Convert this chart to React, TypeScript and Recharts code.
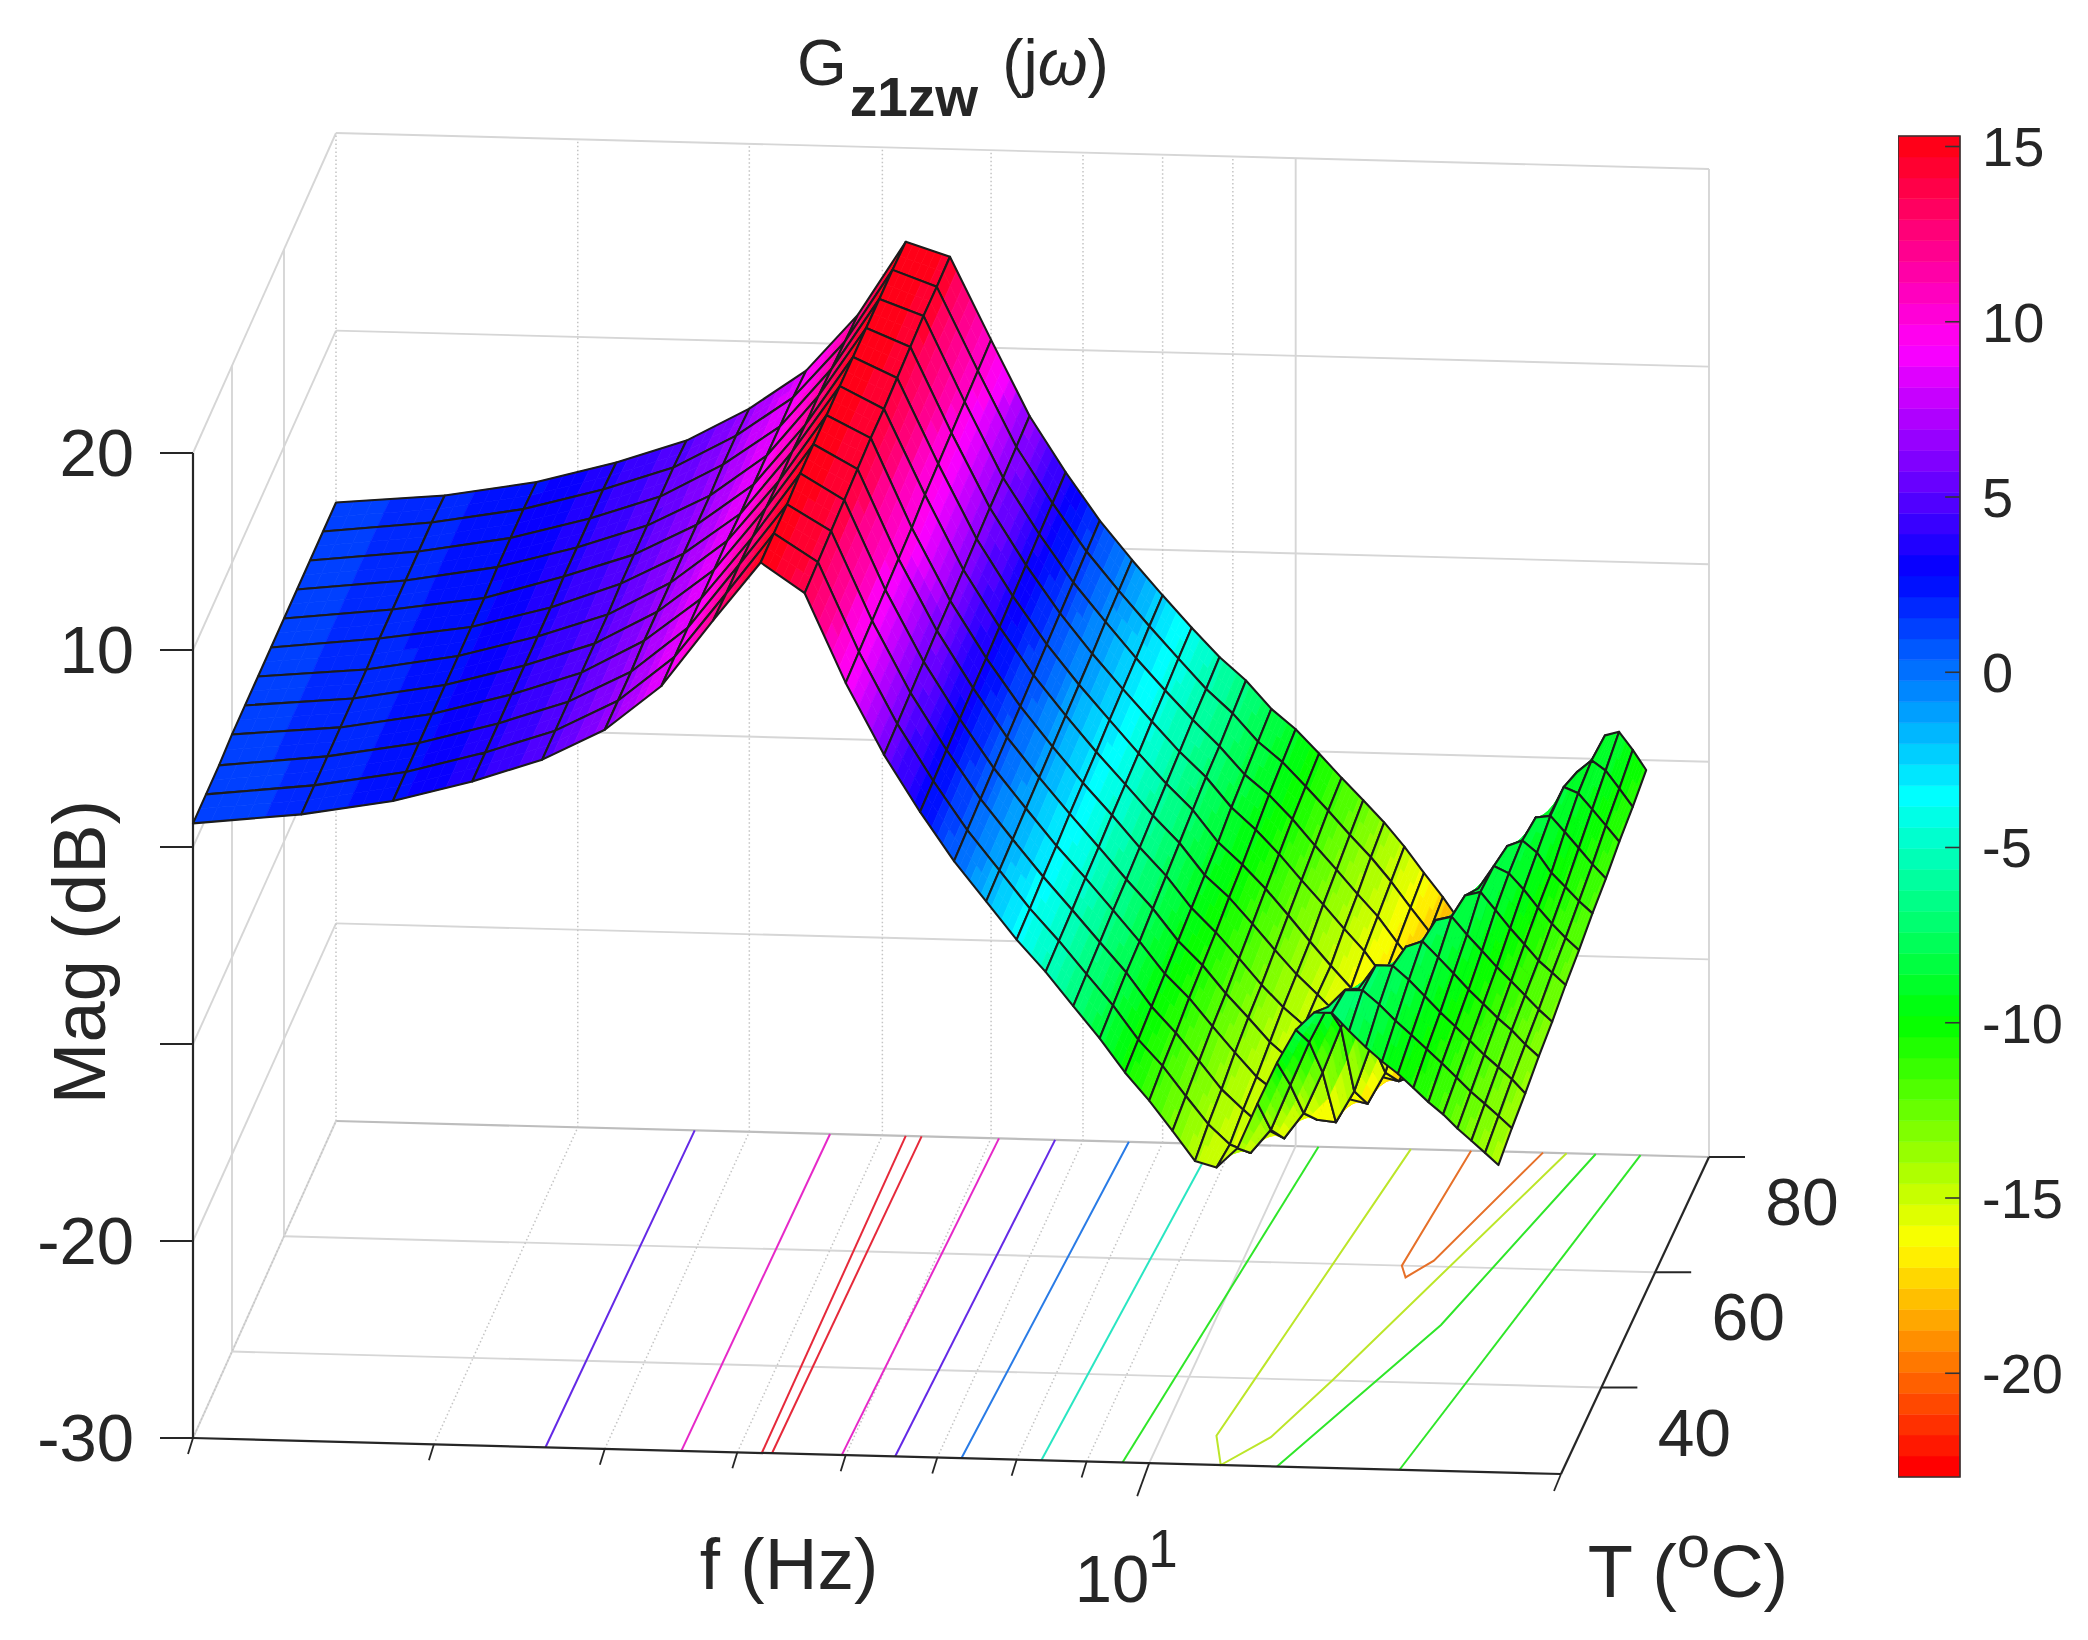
import React from "react";
import { ScatterChart, Scatter, XAxis, YAxis, ComposedChart, ReferenceArea, ReferenceLine } from "recharts";

const WIDTH = 2088;
const HEIGHT = 1640;
const FONT = "'Liberation Sans', Arial, sans-serif";
const INK = "#262626";

// Frequency grid (Hz), temperature grid (°C)
const F_VALUES = [2, 2.4, 2.8, 3.2, 3.6, 4, 4.4, 4.8, 5.2, 5.6, 6, 6.4, 6.8, 7.2, 7.6, 8, 8.4, 8.8, 9.2, 9.6, 10, 10.4, 10.8, 11.2, 11.6, 12, 12.4, 12.8, 13.2, 13.6, 14, 14.4, 14.8, 15.2, 15.6, 16, 16.4, 16.8, 17.2, 17.6, 18];
const T_VALUES = [25, 30, 35, 40, 45, 50, 55, 60, 65, 70, 75, 80];

// Magnitude (dB) per temperature, one value per frequency
const MAG_T25 = [1.2, 1.8, 2.6, 3.7, 4.9, 6.5, 8.8, 12.2, 15.2, 13.7, 9.2, 5.6, 2.75, 0.3, -1.7, -3.6, -5.2, -6.9, -8.5, -10.2, -11.6, -13.1, -14.6, -14.9, -13.9, -11.6, -9.5, -7.8, -6.9, -6.9, -7.8, -8.6, -9.3, -9.9, -10.6, -11.3, -11.9, -12.6, -13.2, -13.8, -14.4];
const MAG_T30 = [1.2, 1.8, 2.6, 3.7, 4.9, 6.5, 8.8, 12.1, 15.2, 13.8, 9.3, 5.7, 2.85, 0.4, -1.6, -3.5, -5.1, -6.75, -8.3, -10.0, -11.3, -12.8, -14.2, -15.2, -15.6, -14.4, -12.1, -9.9, -8.1, -7.2, -7.2, -7.9, -8.7, -9.4, -10.1, -10.8, -11.5, -12.2, -12.8, -13.4, -14.0];
const MAG_T35 = [1.2, 1.8, 2.6, 3.7, 4.9, 6.5, 8.8, 12.1, 15.2, 13.9, 9.4, 5.8, 2.95, 0.5, -1.5, -3.35, -5.0, -6.6, -8.1, -9.8, -11.1, -12.5, -13.9, -14.9, -15.8, -16.3, -15.0, -12.9, -10.6, -8.6, -7.4, -7.4, -8.1, -8.9, -9.7, -10.4, -11.1, -11.8, -12.4, -13.0, -13.7];
const MAG_T40 = [1.3, 1.8, 2.6, 3.7, 4.9, 6.6, 8.8, 12.0, 15.3, 14.0, 9.5, 5.9, 3.05, 0.6, -1.4, -3.25, -4.85, -6.45, -8.0, -9.6, -10.8, -12.2, -13.5, -14.7, -15.5, -16.2, -16.8, -16.9, -15.3, -12.8, -9.9, -7.9, -7.6, -8.4, -9.2, -10.0, -10.7, -11.4, -12.0, -12.7, -13.3];
const MAG_T45 = [1.3, 1.8, 2.6, 3.7, 4.9, 6.6, 8.8, 12.0, 15.3, 14.1, 9.6, 6.0, 3.15, 0.7, -1.3, -3.1, -4.75, -6.35, -7.8, -9.4, -10.6, -12.0, -13.2, -14.4, -15.3, -16.0, -16.7, -17.2, -17.4, -15.8, -13.0, -10.2, -8.0, -7.8, -8.7, -9.5, -10.3, -11.0, -11.7, -12.4, -13.0];
const MAG_T50 = [1.3, 1.8, 2.6, 3.7, 4.9, 6.6, 8.8, 11.9, 15.3, 14.2, 9.7, 6.05, 3.2, 0.8, -1.2, -3.0, -4.6, -6.2, -7.6, -9.2, -10.4, -11.7, -13.0, -14.1, -15.0, -15.6, -16.4, -17.0, -17.5, -17.7, -16.0, -13.2, -10.4, -8.2, -8.0, -8.9, -9.8, -10.6, -11.4, -12.0, -12.6];
const MAG_T55 = [1.3, 1.9, 2.6, 3.7, 5.0, 6.6, 8.7, 11.9, 15.3, 14.2, 9.9, 6.15, 3.3, 0.9, -1.1, -2.9, -4.5, -6.05, -7.4, -9.0, -10.1, -11.4, -12.7, -13.9, -14.9, -15.9, -16.8, -17.6, -18.4, -18.9, -17.4, -14.6, -11.8, -9.3, -8.15, -8.5, -9.3, -10.2, -11.0, -11.7, -12.3];
const MAG_T60 = [1.3, 1.9, 2.6, 3.8, 5.0, 6.6, 8.7, 11.8, 15.3, 14.3, 10.0, 6.25, 3.4, 1.0, -1.0, -2.75, -4.4, -5.9, -7.2, -8.8, -9.9, -11.1, -12.4, -13.7, -14.9, -16.0, -17.2, -18.5, -20.1, -20.2, -18.4, -15.9, -13.2, -10.8, -8.6, -8.3, -8.9, -9.9, -10.6, -11.3, -11.9];
const MAG_T65 = [1.3, 1.9, 2.7, 3.8, 5.0, 6.6, 8.7, 11.8, 15.3, 14.4, 10.1, 6.35, 3.5, 1.1, -0.9, -2.65, -4.25, -5.75, -7.0, -8.5, -9.6, -10.8, -12.1, -13.3, -14.5, -15.6, -16.9, -18.2, -19.6, -20.7, -19.9, -17.6, -15.0, -12.6, -10.3, -8.6, -8.5, -9.3, -10.1, -10.9, -11.6];
const MAG_T70 = [1.3, 1.9, 2.7, 3.8, 5.0, 6.7, 8.7, 11.7, 15.3, 14.5, 10.2, 6.4, 3.6, 1.2, -0.75, -2.55, -4.15, -5.6, -6.9, -8.3, -9.3, -10.5, -11.8, -13.0, -14.2, -15.3, -16.6, -17.8, -19.2, -20.8, -21.5, -19.8, -17.2, -14.8, -12.4, -10.0, -8.5, -8.8, -9.6, -10.4, -11.2];
const MAG_T75 = [1.3, 1.9, 2.7, 3.8, 5.0, 6.7, 8.7, 11.6, 15.3, 14.5, 10.3, 6.5, 3.7, 1.3, -0.65, -2.4, -4.0, -5.5, -6.7, -8.1, -9.1, -10.3, -11.5, -12.7, -13.8, -15.0, -16.3, -17.5, -18.9, -20.4, -22.3, -21.4, -18.9, -16.4, -13.8, -11.2, -9.2, -8.6, -9.1, -10.0, -10.9];
const MAG_T80 = [1.3, 1.8, 2.6, 3.7, 4.9, 6.6, 8.6, 11.5, 15.25, 14.55, 10.4, 6.6, 3.8, 1.4, -0.55, -2.3, -3.9, -5.35, -6.5, -7.9, -8.9, -10.1, -11.3, -12.4, -13.5, -14.7, -16.0, -17.2, -18.5, -20.0, -22.0, -23.0, -21.0, -18.8, -16.0, -13.4, -11.0, -8.8, -8.6, -9.5, -10.5];
const MAG_ROWS = [MAG_T25, MAG_T30, MAG_T35, MAG_T40, MAG_T45, MAG_T50, MAG_T55, MAG_T60, MAG_T65, MAG_T70, MAG_T75, MAG_T80];

// Floor contours: level (dB) and [f, T] vertices
const CONTOURS: { level: number; pts: number[][] }[] = [
  { level: 5, pts: [[3.62, 25], [3.65, 80]] },
  { level: 10, pts: [[4.55, 25], [4.58, 80]] },
  { level: 15, pts: [[5.21, 25], [5.2, 80]] },
  { level: 15, pts: [[5.3, 25], [5.34, 80]] },
  { level: 10, pts: [[5.96, 25], [6.08, 80]] },
  { level: 5, pts: [[6.52, 25], [6.68, 80]] },
  { level: 0, pts: [[7.29, 25], [7.56, 80]] },
  { level: -5, pts: [[8.34, 25], [8.7, 80]] },
  { level: -10, pts: [[9.56, 25], [10.39, 80]] },
  { level: -15, pts: [[12.13, 80], [10.95, 30], [11.28, 25], [12.0, 30], [12.72, 40], [15.75, 80]] },
  { level: -10, pts: [[12.4, 25], [14.6, 50], [16.54, 80]] },
  { level: -10, pts: [[15.24, 25], [17.83, 80]] },
  { level: -20, pts: [[13.42, 80], [13.07, 60], [13.27, 58], [13.73, 61], [15.14, 80]] },
];

const Z_TICKS = [-30, -20, -10, 0, 10, 20];
const Z_LABELS = [-30, -20, 10, 20];
const T_TICKS = [40, 60, 80];
const F_MINOR = [2, 3, 4, 5, 6, 7, 8, 9];
const F_MAJOR = [10];
const COLORBAR_TICKS = [-20, -15, -10, -5, 0, 5, 10, 15];
const CMIN = -22.96;
const CMAX = 15.3;
const BANDS = Array.from({ length: 64 }, (_, i) => i);

// Oblique projection of the 3-D axes box onto the page
const project = (f: number, T: number, z: number) => {
  const u = Math.log10(f / 2);
  const v = (T - 25) / 55;
  return {
    x: 193 + 1368 * u + 143 * v + 5 * u * v,
    y: 1438 + 36 * u - 317 * v - (19.7 + 0.06 * v) * (z + 30),
  };
};

const hsvRgb = (h: number) => {
  const i = Math.floor(h * 6);
  const t = h * 6 - i;
  return [
    [1, t, 0],
    [1 - t, 1, 0],
    [0, 1, t],
    [0, 1 - t, 1],
    [t, 0, 1],
    [1, 0, 1 - t],
  ][i % 6];
};
const toHex = (rgb: number[]) =>
  "#" + rgb.map((c) => Math.round(Math.min(1, c) * 255).toString(16).padStart(2, "0")).join("");
const bandIndex = (z: number) => Math.max(0, Math.min(63, Math.floor(((z - CMIN) / (CMAX - CMIN)) * 64)));
const bandColor = (i: number) => toHex(hsvRgb(i / 64));
const magColor = (z: number) => bandColor(bandIndex(z));
const contourColor = (z: number) => toHex(hsvRgb(bandIndex(z) / 64).map((c) => c * 0.74 + 0.16));

// Cells in back-to-front order for a height field seen from low T, high f
type Corner = { x: number; y: number; z: number };
type Cell = { x: number; y: number; c: Corner[] };
const CELLS: Cell[] = [];
for (let r = T_VALUES.length - 2; r >= 0; r--) {
  for (let c = 0; c < F_VALUES.length - 1; c++) {
    const node = (rr: number, cc: number): Corner => {
      const z = MAG_ROWS[rr][cc];
      const p = project(F_VALUES[cc], T_VALUES[rr], z);
      return { x: p.x, y: p.y, z };
    };
    const corners = [node(r, c), node(r, c + 1), node(r + 1, c + 1), node(r + 1, c)];
    CELLS.push({
      x: corners.reduce((s, k) => s + k.x, 0) / 4,
      y: corners.reduce((s, k) => s + k.y, 0) / 4,
      c: corners,
    });
  }
}

const SUB_F = 6;
const SUB_T = 2;
const CellShape = (props: any) => {
  const { cx, cy, payload } = props;
  if (!payload || !payload.c) return null;
  const dx = cx - payload.x;
  const dy = cy - payload.y;
  const [a, b, d, e] = payload.c as Corner[];
  const at = (s: number, t: number) => {
    const m = (k: "x" | "y" | "z") =>
      (1 - t) * ((1 - s) * a[k] + s * b[k]) + t * ((1 - s) * e[k] + s * d[k]);
    return { x: m("x") + dx, y: m("y") + dy, z: m("z") };
  };
  const polys: React.ReactNode[] = [];
  for (let i = 0; i < SUB_F; i++) {
    for (let j = 0; j < SUB_T; j++) {
      const s0 = i / SUB_F, s1 = (i + 1) / SUB_F, t0 = j / SUB_T, t1 = (j + 1) / SUB_T;
      const q = [at(s0, t0), at(s1, t0), at(s1, t1), at(s0, t1)];
      const col = magColor(at((s0 + s1) / 2, (t0 + t1) / 2).z);
      polys.push(
        <polygon key={i + "-" + j} points={q.map((p) => p.x + "," + p.y).join(" ")} fill={col} stroke={col} strokeWidth={0.7} />
      );
    }
  }
  const outline = [a, b, d, e].map((p) => p.x + dx + "," + (p.y + dy)).join(" ");
  return (
    <g>
      {polys}
      <polygon points={outline} fill="none" stroke="#1c1c1c" strokeWidth={2.1} strokeLinejoin="round" />
    </g>
  );
};

const NoDot = () => null;

const seg = (key: string, pts: { x: number; y: number }[], stroke: string, width: number, dash?: string) => (
  <Scatter
    key={key}
    data={pts}
    line={{ stroke, strokeWidth: width, strokeDasharray: dash }}
    lineType="joint"
    shape={NoDot as any}
    isAnimationActive={false}
  />
);

const txt = (key: string, x: number, y: number, content: React.ReactNode, size: number, anchor = "middle", rotate = 0) => (
  <Scatter
    key={key}
    data={[{ x, y }]}
    isAnimationActive={false}
    shape={((p: any) => (
      <text
        x={p.cx}
        y={p.cy}
        fontFamily={FONT}
        fontSize={size}
        fill={INK}
        textAnchor={anchor as any}
        transform={rotate ? `rotate(${rotate} ${p.cx} ${p.cy})` : undefined}
      >
        {content}
      </text>
    )) as any}
  />
);

const GRID = "#d6d6d6";
const DOT = "#c4c4c4";

const walls: React.ReactNode[] = [];
Z_TICKS.forEach((z) => {
  walls.push(seg(`back-${z}`, [project(2, 80, z), project(20, 80, z)], z === -30 ? "#bdbdbd" : GRID, z === -30 ? 2.2 : 1.9));
  walls.push(seg(`left-${z}`, [project(2, 25, z), project(2, 80, z)], GRID, 1.9));
});
T_TICKS.forEach((T) => {
  if (T !== 80) walls.push(seg(`floor-${T}`, [project(2, T, -30), project(20, T, -30)], GRID, 1.9));
  if (T !== 80) walls.push(seg(`leftv-${T}`, [project(2, T, -30), project(2, T, 20)], GRID, 1.9));
});
F_MINOR.forEach((f) => {
  walls.push(seg(`backv-${f}`, [project(f, 80, -30), project(f, 80, 20)], DOT, 1.5, "1.5 2.5"));
  walls.push(seg(`floorf-${f}`, [project(f, 25, -30), project(f, 80, -30)], DOT, 1.5, "1.5 2.5"));
});
F_MAJOR.forEach((f) => {
  walls.push(seg(`backV-${f}`, [project(f, 80, -30), project(f, 80, 20)], GRID, 1.9));
  walls.push(seg(`floorF-${f}`, [project(f, 25, -30), project(f, 80, -30)], GRID, 1.9));
});
walls.push(seg("backV-20", [project(20, 80, -30), project(20, 80, 20)], GRID, 1.9));

const contours = CONTOURS.map((k, i) =>
  seg(`contour-${i}`, k.pts.map(([f, T]) => project(f, T, -30)), contourColor(k.level), 2)
);

const off = (p: { x: number; y: number }, dx: number, dy: number) => ({ x: p.x + dx, y: p.y + dy });
const axes: React.ReactNode[] = [];
axes.push(seg("zaxis", [project(2, 25, -30), project(2, 25, 20)], INK, 2.2));
axes.push(seg("faxis", [project(2, 25, -30), project(20, 25, -30)], INK, 2.2));
axes.push(seg("taxis", [project(20, 25, -30), project(20, 80, -30)], INK, 2.2));
Z_TICKS.forEach((z) => {
  const p = project(2, 25, z);
  axes.push(seg(`ztick-${z}`, [p, off(p, -33, 0)], INK, 2));
});
T_TICKS.forEach((T) => {
  const p = project(20, T, -30);
  axes.push(seg(`ttick-${T}`, [p, off(p, 36, 0)], INK, 2));
});
F_MINOR.forEach((f) => {
  const p = project(f, 25, -30);
  axes.push(seg(`ftick-${f}`, [p, off(p, -5, 16)], INK, 1.8));
});
axes.push(seg("fTick-10", [project(10, 25, -30), off(project(10, 25, -30), -12, 33)], INK, 1.8));
axes.push(seg("fTick-20", [project(20, 25, -30), off(project(20, 25, -30), -7, 17)], INK, 1.8));

const labels: React.ReactNode[] = [];
Z_LABELS.forEach((z) => {
  const p = project(2, 25, z);
  labels.push(txt(`zl-${z}`, 134, p.y + 23, String(z), 67, "end"));
});
T_TICKS.forEach((T) => {
  const p = project(20, T, -30);
  labels.push(txt(`tl-${T}`, p.x + 93, p.y + 68, String(T), 66, "middle"));
});

const Plot = () => (
  <ScatterChart width={WIDTH} height={HEIGHT} margin={{ top: 0, right: 0, bottom: 0, left: 0 }}>
    <XAxis type="number" dataKey="x" domain={[0, WIDTH]} hide allowDataOverflow />
    <YAxis type="number" dataKey="y" domain={[0, HEIGHT]} reversed hide allowDataOverflow />
    {walls}
    {contours}
    {axes}
    <Scatter data={CELLS} shape={CellShape as any} isAnimationActive={false} />
    {labels}
    {txt(
      "title",
      797,
      85,
      <>
        <tspan fontSize={64}>G</tspan>
        <tspan fontSize={55} fontWeight="bold" dy={31} dx={3}>z1zw</tspan>
        <tspan fontSize={64} dy={-31} dx={24}>(j<tspan fontStyle="italic">ω</tspan>)</tspan>
      </>,
      64,
      "start"
    )}
    {txt("flabel", 789, 1589, "f (Hz)", 73)}
    {txt("ten", 1112, 1602, "10", 67)}
    {txt("tenexp", 1163, 1567, "1", 53)}
    {txt(
      "tlabel",
      1688,
      1597,
      <>
        T (<tspan fontSize={60} dy={-30}>o</tspan>
        <tspan dy={30}>C)</tspan>
      </>,
      74
    )}
    {txt("mag", 105, 952, "Mag (dB)", 74, "middle", -90)}
  </ScatterChart>
);

const Colorbar = () => (
  <ComposedChart width={190} height={1381} margin={{ top: 20, right: 0, bottom: 20, left: 0 }} data={[{ x: 0 }, { x: 1 }]}>
    <XAxis type="number" dataKey="x" domain={[0, 1]} hide allowDataOverflow />
    <YAxis
      type="number"
      orientation="right"
      width={128}
      domain={[CMIN, CMAX]}
      ticks={COLORBAR_TICKS}
      interval={0}
      allowDataOverflow
      axisLine={false}
      tickLine={false}
      tickMargin={16}
      tick={{ fontSize: 56, fill: INK, fontFamily: FONT }}
    />
    {BANDS.map((i) => (
      <ReferenceArea
        key={i}
        x1={0}
        x2={1}
        y1={CMIN + ((CMAX - CMIN) * i) / 64}
        y2={CMIN + ((CMAX - CMIN) * (i + 1)) / 64}
        fill={bandColor(i)}
        fillOpacity={1}
        stroke={bandColor(i)}
        strokeWidth={0.5}
        ifOverflow="extendDomain"
      />
    ))}
    <ReferenceArea x1={0} x2={1} y1={CMIN} y2={CMAX} fill="none" stroke="#333333" strokeWidth={1.6} />
    {COLORBAR_TICKS.map((t) => (
      <ReferenceLine key={t} segment={[{ x: 0.76, y: t }, { x: 1, y: t }]} stroke="#333333" strokeWidth={1.6} />
    ))}
  </ComposedChart>
);

export default function App() {
  return (
    <div style={{ position: "absolute", left: 0, top: 0, width: WIDTH, height: HEIGHT, background: "#fff", overflow: "hidden" }}>
      <div style={{ position: "absolute", left: 0, top: 0 }}>
        <Plot />
      </div>
      <div style={{ position: "absolute", left: 1898, top: 116 }}>
        <Colorbar />
      </div>
    </div>
  );
}
